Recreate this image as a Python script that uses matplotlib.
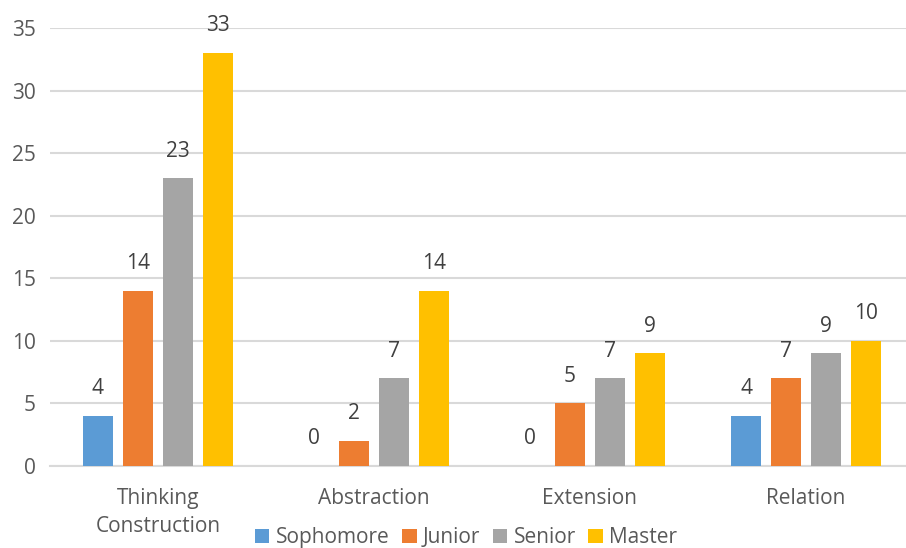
import matplotlib
matplotlib.use('Agg')
import matplotlib.pyplot as plt
import numpy as np

plt.rcParams['font.family'] = ['Open Sans', 'DejaVu Sans']

categories = ['Thinking\nConstruction', 'Abstraction', 'Extension', 'Relation']
series = ['Sophomore', 'Junior', 'Senior', 'Master']
sophomore = [4, 0, 0, 4]
junior = [14, 2, 5, 7]
senior = [23, 7, 7, 9]
master = [33, 14, 9, 10]
colors = ['#5B9BD5', '#ED7D31', '#A5A5A5', '#FFC000']

W, H = 906, 548
fig = plt.figure(figsize=(W / 100, H / 100), dpi=100)
ax = fig.add_axes([50 / W, 1 - 466 / H, (W - 50) / W, (466 - 28) / H])

x = np.arange(len(categories))
step = 40 / 216
width = 30 / 216
handles = []
for i, (name, vals) in enumerate(zip(series, [sophomore, junior, senior, master])):
    pos = x + (i - 1.5) * step
    b = ax.bar(pos, vals, width, color=colors[i], label=name, zorder=3)
    handles.append(b)
    for p, v in zip(pos, vals):
        ax.annotate(str(v), (p, v), xytext=(0, 19.5), textcoords='offset points',
                    ha='center', va='center', fontsize=15, color='#404040')

ax.set_ylim(0, 35)
ax.set_xlim(-0.5, 3.5 - 8 / 216)
ax.set_yticks(range(0, 36, 5))
ax.set_xticks(x)
ax.set_xticklabels(categories, linespacing=1.45)
ax.tick_params(axis='both', length=0, labelsize=15, colors='#595959')
ax.tick_params(axis='y', pad=10)
ax.tick_params(axis='x', pad=16)
ax.grid(axis='y', color='#D9D9D9', linewidth=1.5, zorder=0)
for s in ['top', 'right', 'left']:
    ax.spines[s].set_visible(False)
ax.spines['bottom'].set_color('#D9D9D9')
ax.spines['bottom'].set_linewidth(1.5)

fig.legend(handles=handles, loc='lower center', bbox_to_anchor=(466 / W, -0.035),
           ncol=4, frameon=False, fontsize=15, handlelength=0.7, handleheight=0.7,
           handletextpad=0.3, columnspacing=0.6, labelcolor='#595959')

fig.savefig('out.png', dpi=100)
